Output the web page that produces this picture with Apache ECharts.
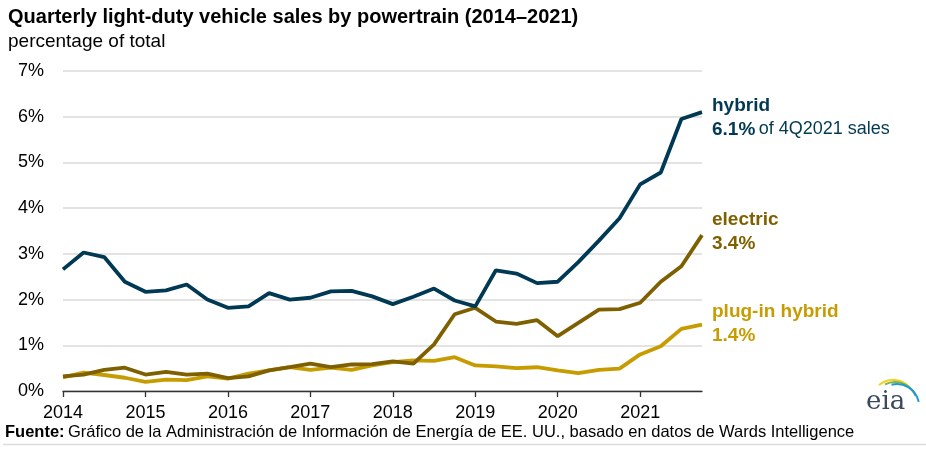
<!DOCTYPE html>
<html>
<head>
<meta charset="utf-8">
<script src="https://cdn.jsdelivr.net/npm/echarts@6/dist/echarts.min.js"></script>
<style>
html,body{margin:0;padding:0;background:#fff;}
#chart{width:926px;height:456px;}
</style>
</head>
<body>
<div id="chart"></div>
<script>
// Quarterly sample points: 2014 Q1 .. 2021 Q4 (x = year + (quarter-1)/4)
const quarters = [];
for (let y = 2014; y <= 2021; y++) { for (let q = 0; q < 4; q++) quarters.push(y + q / 4); }

const yearTicks = [2014, 2015, 2016, 2017, 2018, 2019, 2020, 2021];

const hybrid = [2.66, 3.03, 2.93, 2.39, 2.17, 2.20, 2.33, 2.00,
                1.82, 1.85, 2.14, 2.00, 2.04, 2.18, 2.19, 2.07,
                1.90, 2.06, 2.24, 1.98, 1.85, 2.64, 2.57, 2.36,
                2.39, 2.82, 3.29, 3.78, 4.52, 4.78, 5.95, 6.10];

const electric = [0.32, 0.36, 0.46, 0.51, 0.36, 0.42, 0.36, 0.38,
                  0.28, 0.32, 0.45, 0.52, 0.60, 0.52, 0.58, 0.59,
                  0.65, 0.60, 1.02, 1.68, 1.82, 1.52, 1.47, 1.55,
                  1.20, 1.49, 1.78, 1.79, 1.93, 2.39, 2.73, 3.41];

const plugin = [0.30, 0.40, 0.35, 0.29, 0.20, 0.25, 0.24, 0.32,
                0.27, 0.38, 0.45, 0.52, 0.46, 0.51, 0.46, 0.56,
                0.63, 0.67, 0.66, 0.74, 0.56, 0.54, 0.50, 0.52,
                0.45, 0.39, 0.46, 0.49, 0.80, 0.98, 1.36, 1.45];

const C_HYB = '#003953', C_ELE = '#7f6000', C_PLG = '#c79c00';
const FONT = '"Liberation Sans", Arial, sans-serif';

function pairs(vals) { return vals.map((v, i) => [quarters[i], v]); }

const chart = echarts.init(document.getElementById('chart'), null, {renderer: 'canvas'});
chart.setOption({
  animation: false,
  backgroundColor: '#fff',
  textStyle: {fontFamily: FONT},
  grid: {left: 63, right: 224, top: 71, bottom: 65, containLabel: false},
  xAxis: {
    type: 'value', min: 2014, max: 2021.75, interval: 1,
    axisLine: {show: true, lineStyle: {color: '#333', width: 1.3}},
    axisTick: {show: true, length: 6, inside: false, customValues: yearTicks, lineStyle: {color: '#333', width: 1.3}},
    axisLabel: {customValues: yearTicks, color: '#000', fontSize: 18, fontFamily: FONT, margin: 13,
                formatter: v => String(v)},
    splitLine: {show: false}
  },
  yAxis: {
    type: 'value', min: 0, max: 7, interval: 1,
    axisLine: {show: false}, axisTick: {show: false},
    axisLabel: {color: '#000', fontSize: 18, fontFamily: FONT, margin: 19, formatter: v => v + '%'},
    splitLine: {show: true, lineStyle: {color: '#dadada', width: 1.5}}
  },
  series: [
    {name: 'plug-in hybrid', type: 'line', data: pairs(plugin), symbol: 'none', z: 2,
     lineStyle: {color: C_PLG, width: 3.8}, itemStyle: {color: C_PLG}},
    {name: 'electric', type: 'line', data: pairs(electric), symbol: 'none', z: 3,
     lineStyle: {color: C_ELE, width: 3.8}, itemStyle: {color: C_ELE}},
    {name: 'hybrid', type: 'line', data: pairs(hybrid), symbol: 'none', z: 4,
     lineStyle: {color: C_HYB, width: 3.8}, itemStyle: {color: C_HYB}}
  ],
  graphic: [
    {type: 'text', left: 8, top: 7, style: {text: 'Quarterly light-duty vehicle sales by powertrain (2014\u20132021)', font: 'bold 20px ' + FONT, fill: '#000'}},
    {type: 'text', left: 8, top: 32, style: {text: 'percentage of total', font: '19px ' + FONT, fill: '#000'}},
    {type: 'text', left: 712, top: 96, style: {text: 'hybrid', font: 'bold 19px ' + FONT, fill: C_HYB}},
    {type: 'text', left: 712, top: 120, style: {
      text: '{b|6.1%} {r|of 4Q2021 sales}',
      rich: {b: {font: 'bold 19px ' + FONT, fill: C_HYB, color: C_HYB}, r: {font: '18px ' + FONT, fill: C_HYB, color: C_HYB}}
    }},
    {type: 'text', left: 712, top: 210, style: {text: 'electric', font: 'bold 19px ' + FONT, fill: C_ELE}},
    {type: 'text', left: 712, top: 234, style: {text: '3.4%', font: 'bold 19px ' + FONT, fill: C_ELE}},
    {type: 'text', left: 712, top: 302, style: {text: 'plug-in hybrid', font: 'bold 19px ' + FONT, fill: C_PLG}},
    {type: 'text', left: 712, top: 326, style: {text: '1.4%', font: 'bold 19px ' + FONT, fill: C_PLG}},
    {type: 'text', left: 5, top: 424, style: {
      text: '{b|Fuente:} {r|Gr\u00e1fico de la Administraci\u00f3n de Informaci\u00f3n de Energ\u00eda de EE. UU., basado en datos de Wards Intelligence}',
      rich: {b: {font: 'bold 16.5px ' + FONT, color: '#adadad'}, r: {font: '16.5px ' + FONT, color: '#adadad'}}
    }},
    {type: 'line', shape: {x1: 3, y1: 444.5, x2: 926, y2: 444.5}, style: {stroke: '#dcdcdc', lineWidth: 1.5}},
    // eia logo
    {type: 'arc', shape: {cx: 893, cy: 402, r: 22, startAngle: -Math.PI * 0.72, endAngle: -Math.PI * 0.18}, style: {stroke: '#f2d21c', lineWidth: 2, fill: null}},
    {type: 'arc', shape: {cx: 895, cy: 404, r: 22, startAngle: -Math.PI * 0.65, endAngle: -Math.PI * 0.12}, style: {stroke: '#7ab648', lineWidth: 2, fill: null}},
    {type: 'arc', shape: {cx: 897, cy: 406, r: 22, startAngle: -Math.PI * 0.58, endAngle: -Math.PI * 0.06}, style: {stroke: '#1f9ad6', lineWidth: 2, fill: null}},
    {type: 'text', left: 866, top: 389, style: {text: 'eia', font: '26px "DejaVu Serif", "Liberation Serif", serif', fill: '#3b4a5a'}}
  ]
});
</script>
</body>
</html>
